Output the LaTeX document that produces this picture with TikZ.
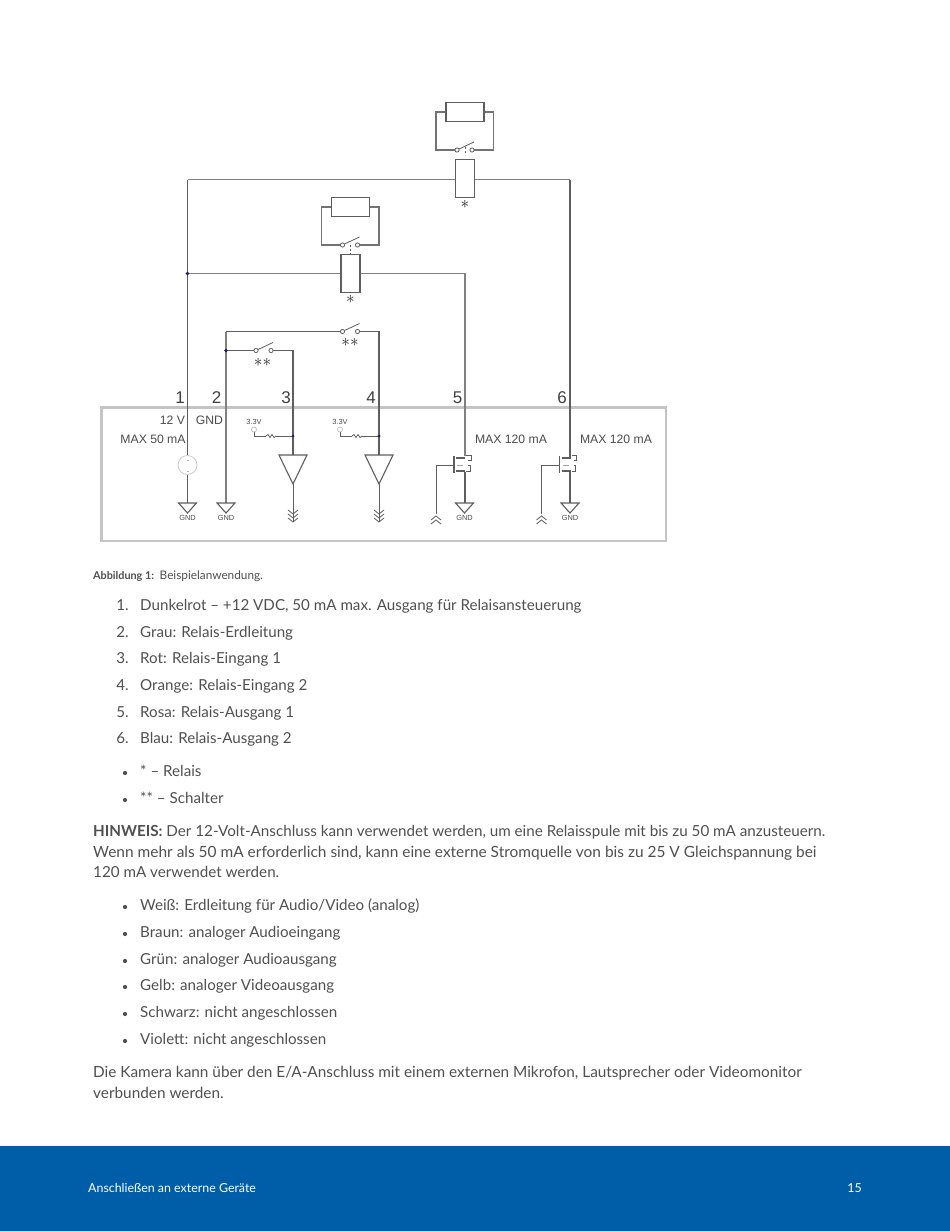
\documentclass[tikz,border=0pt]{standalone}
\usepackage{fontspec}
\setmainfont{Lato}[BoldFont=Lato Bold]
\newfontfamily\labfont{Liberation Sans}
\definecolor{wirecol}{HTML}{5E5E5E}
\definecolor{framecol}{HTML}{C4C4C4}
\definecolor{textcol}{HTML}{505050}
\definecolor{barcol}{HTML}{005DA8}
\definecolor{dotcol}{HTML}{1A1A6E}
\tikzset{
  wire/.style={draw=wirecol,line width=1.1pt},
  thickw/.style={draw=black!50,line width=1.9pt},
  thinw/.style={draw=wirecol,line width=.8pt},
  part/.style={draw=wirecol,line width=1.1pt,fill=white,minimum width=#1,inner sep=0pt},
  pinno/.style={font=\labfont\fontsize{17}{17}\selectfont,text=black!75,inner sep=0pt},
  lab/.style={font=\labfont\fontsize{12.2}{12}\selectfont,text=black!70,inner sep=0pt},
  tiny/.style={font=\labfont\fontsize{7.4}{7}\selectfont,text=black!70,inner sep=0pt},
  star/.style={font=\fontsize{17.28}{17.28}\selectfont,text=black!85,inner sep=0pt},
  bodyt/.style={font=\fontsize{#1}{26}\selectfont,text=textcol,anchor=base west,inner sep=0pt},
  bodyt/.default=15.15,
  bull/.style={circle,fill=textcol,inner sep=0pt,minimum size=4.2pt},
  dotn/.style={circle,fill=dotcol,inner sep=0pt,minimum size=3.6pt},
  opn/.style={circle,draw=wirecol,fill=white,line width=.8pt,inner sep=0pt,minimum size=4.2pt}
}
\newcommand{\gndsym}[3]{% x, top y, label
  \draw[wire] (#1-9,#2) -- (#1+9,#2) -- (#1,#2+10) -- cycle;
  \node[tiny] at (#1,#2+15) {#3};
}
\newcommand{\swt}[2]{% x of left contact, y
  \node[opn] at (#1,#2) {};
  \node[opn] at (#1+15,#2) {};
  \draw[thinw] (#1+2,#2-1) -- (#1+17,#2-8);
}
\begin{document}
\begin{tikzpicture}[x=1pt,y=-1pt]
\useasboundingbox (0,0) rectangle (950,1231);
\fill[white] (0,0) rectangle (950,1231);
\fill[barcol] (0,1146) rectangle (950,1231);
% frame
\draw[framecol,line width=2.6pt] (101.5,407.5) rectangle (666,541);
% wires
\draw[thickw] (187.5,179.5) -- (570,179.5);
\draw[wire] (187.5,503) -- (187.5,179.5);
\draw[wire] (570,179.5) -- (570,503);
\draw[thickw] (187.5,273.5) -- (465,273.5) -- (465,456);
\draw[wire] (465,472) -- (465,503);
\draw[thickw] (226,503) -- (226,331.5);
\draw[wire] (226,331.5) -- (343,331.5);
\draw[wire] (359,331.5) -- (379,331.5) -- (379,455);
\draw[wire] (226,350.5) -- (257,350.5);
\draw[wire] (272,350.5) -- (293,350.5) -- (293,455);
\node[dotn] (dota) at (187.5,273.5) {};
\node[dotn] (dotb) at (226,350.5) {};
% relays
\node[part=19pt,minimum height=38pt] (rela) at (465,178.5) {};
\node[part=19pt,minimum height=38pt] (relb) at (350.5,273.5) {};
\node[star] at (465,204) {$\ast$};
\node[star] at (350.5,299) {$\ast$};
\draw[wire,draw=black!55] (457,150) -- (436,150) -- (436,112) -- (445,112);
\draw[wire,draw=black!55] (472,150) -- (493.5,150) -- (493.5,112) -- (484,112);
\node[part=38pt,minimum height=19pt] (loada) at (465,112) {};
\draw[wire,draw=black!55] (342,245) -- (321.5,245) -- (321.5,207) -- (331,207);
\draw[wire,draw=black!55] (358,245) -- (379,245) -- (379,207) -- (369,207);
\node[part=38pt,minimum height=19pt] (loadb) at (350.5,207) {};
\swt{457}{150}
\swt{342.5}{245}
\swt{342.5}{331.5}
\swt{256}{350.5}
\draw[thinw,dash pattern=on 2pt off 2pt] (350.5,245) -- (350.5,254);
\draw[thinw,dash pattern=on 2pt off 2pt] (465,147) -- (465,153);
\node[star] at (262.5,362) {$\ast\ast$};
\node[star] at (350,342) {$\ast\ast$};
% pin numbers
\node[pinno] at (180,398) {1};
\node[pinno] at (216.5,398) {2};
\node[pinno] at (286,398) {3};
\node[pinno] at (371,398) {4};
\node[pinno] at (457.5,398) {5};
\node[pinno] at (562,398) {6};
% labels in the box
\node[lab] at (172.5,420) {12 V};
\node[lab] at (209.5,420) {GND};
\node[lab] at (153,439) {MAX 50 mA};
\node[lab] at (511,439) {MAX 120 mA};
\node[lab] at (616,439) {MAX 120 mA};
\node[tiny] at (254,422) {3.3V};
\node[tiny] at (340,422) {3.3V};
% source
\node[circle,draw=black!20,fill=white,line width=.8pt,minimum size=19pt,inner sep=0pt] (src) at (187.5,465) {};
\draw[black!30,line width=.5pt] (186.5,460) -- (188.5,460) (186.5,471) -- (188.5,471);
\foreach \xgnd in {187.5,226,464.5,570} {\gndsym{\xgnd}{503}{GND}}
% inputs
\foreach \xin in {293,379} {
  \node[circle,draw=black!30,line width=.6pt,minimum size=5pt,inner sep=0pt] at (\xin-39,429.5) {};
  \draw[thinw] (\xin-39,432) -- (\xin-39,436) -- (\xin-27,436);
  \draw[thinw] (\xin-27,436) -- ++(2,-1.5) -- ++(2,3) -- ++(2,-3) -- ++(2,3) -- ++(2,-1.5);
  \draw[thinw] (\xin-17,436) -- (\xin,436);
  \node[dotn,minimum size=3pt] at (\xin,436) {};
  \draw[wire] (\xin-14,455) -- (\xin+14,455) -- (\xin,484) -- cycle;
  \draw[thinw] (\xin,484) -- (\xin,522);
  \foreach \ych in {510,514,518} \draw[thinw] (\xin-5,\ych) -- (\xin,\ych+4) -- (\xin+5,\ych);
}
% transistors
\foreach \xq/\xg in {465/436,570.5/541.5} {
  \fill[white] (\xq-1.5,459) rectangle (\xq+1.5,470);
  \draw[thinw] (\xg,514) -- (\xg,465) -- (\xq-11,465);
  \draw[wire] (\xq-11,456) -- (\xq-11,473);
  \draw[wire] (\xq-9,458) -- (\xq,458) (\xq-9,471) -- (\xq,471);
  \draw[thinw] (\xq+1,455) -- (\xq+6,455) -- (\xq+6,460) -- (\xq+3,460);
  \draw[thinw] (\xq+1,471) -- (\xq+5,471) -- (\xq+5,465) -- (\xq+3,465);
  \draw[black!35,line width=.6pt] (\xq-8,465) -- (\xq-2,465);
  \foreach \ych in {516,520} \draw[thinw] (\xg-5,\ych+4) -- (\xg,\ych) -- (\xg+5,\ych+4);
}
% caption
\node[anchor=base west,inner sep=0pt,text=textcol,font=\fontsize{10.8}{12}\selectfont] at (93,579) {\textbf{Abbildung 1:}};
\node[anchor=base west,inner sep=0pt,text=textcol,font=\fontsize{11.8}{12}\selectfont] at (159.5,579) {Beispielanwendung.};
% numbered list
\foreach \ytxt/\nnum/\ttxt in {
  610/1./{Dunkelrot – +12 VDC, 50 mA max. Ausgang für Relaisansteuerung},
  637/2./{Grau: Relais-Erdleitung},
  663/3./{Rot: Relais-Eingang 1},
  690/4./{Orange: Relais-Eingang 2},
  717/5./{Rosa: Relais-Ausgang 1},
  743/6./{Blau: Relais-Ausgang 2}} {
  \node[bodyt,anchor=base east] at (129,\ytxt) {\nnum};
  \node[bodyt] at (140,\ytxt) {\ttxt};
}
% bullets
\foreach \ytxt/\ttxt in {
  776/{* – Relais},
  803/{** – Schalter},
  910/{Weiß: Erdleitung für Audio/Video (analog)},
  937/{Braun: analoger Audioeingang},
  964/{Grün: analoger Audioausgang},
  990/{Gelb: analoger Videoausgang},
  1017/{Schwarz: nicht angeschlossen},
  1044/{Violett: nicht angeschlossen}} {
  \node[bull] at (125,\ytxt-3) {};
  \node[bodyt] at (140,\ytxt) {\ttxt};
}
% paragraphs
\node[bodyt=15.2] at (93,836) {\textbf{HINWEIS:} Der 12-Volt-Anschluss kann verwendet werden, um eine Relaisspule mit bis zu 50 mA anzusteuern.};
\node[bodyt=15.45] at (93,857) {Wenn mehr als 50 mA erforderlich sind, kann eine externe Stromquelle von bis zu 25 V Gleichspannung bei};
\node[bodyt=15.2] at (93,877) {120 mA verwendet werden.};
\node[bodyt=15.35] at (93,1077) {Die Kamera kann über den E/A-Anschluss mit einem externen Mikrofon, Lautsprecher oder Videomonitor};
\node[bodyt=15.35] at (93,1098) {verbunden werden.};
% footer
\node[anchor=base west,inner sep=0pt,text=white,font=\fontsize{12.4}{12}\selectfont] at (88,1192) {Anschließen an externe Geräte};
\node[anchor=base east,inner sep=0pt,text=white,font=\fontsize{12.4}{12}\selectfont] at (862,1192) {15};
\end{tikzpicture}
\end{document}
